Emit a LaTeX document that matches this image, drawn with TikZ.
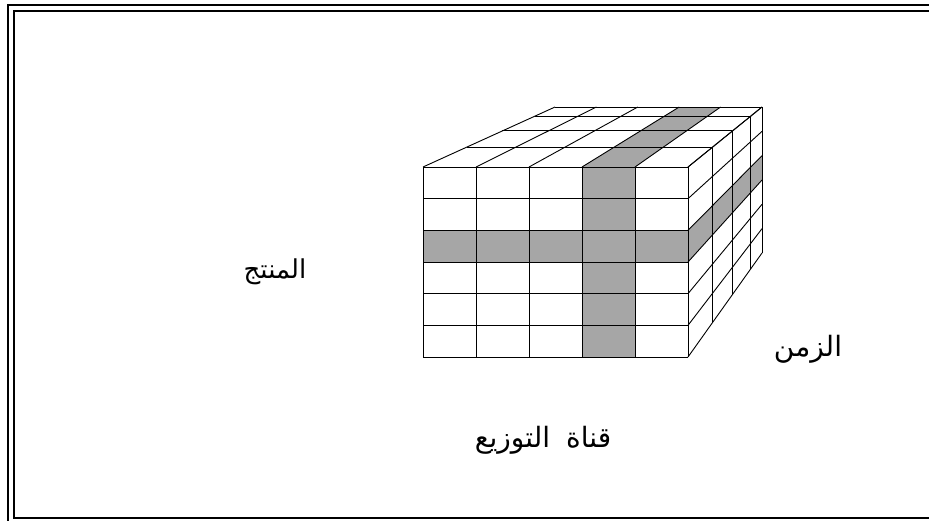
\documentclass[tikz,border=0pt]{standalone}
\usepackage{fontspec}
\newfontfamily\arabicfont[Script=Arabic]{DejaVu Sans}
\TeXXeTstate=1
\begin{document}
\begin{tikzpicture}[x=1pt,y=-1pt,
  grid/.style={black,line width=0.9pt},
  shade/.style={fill=black!35},
  frameline/.style={black,line width=2pt},
  lbl/.style={font=\arabicfont\fontsize{26}{30}\selectfont,inner sep=0pt}]
\useasboundingbox (0,0) rectangle (929,520);
\clip (0,0) rectangle (929,520);
% frame
\draw[frameline] (7.8,5.2) rectangle (960,540);
\draw[frameline] (13.8,11.2) rectangle (960,517.7);
% shading
\fill[shade] (582,167) rectangle (635,357);
\fill[shade] (423,230.33) rectangle (688,262);
\fill[shade] (582,167) -- (635,167) -- (720.6,107) -- (679.2,107) -- cycle;
\fill[shade] (688,230.33) -- (688,262) -- (762,180) -- (762,155.67) -- cycle;
% front face grid
\foreach \j in {0,...,5} \draw[grid] ({423+53*\j},167) -- ({423+53*\j},357);
\foreach \i in {0,...,6} \draw[grid] (423,{167+31.667*\i}) -- (688,{167+31.667*\i});
% top face
\foreach \t in {0,0.331,0.601,0.845,1}
  \draw[grid] ({423+132*\t},{167-60*\t}) -- ({688+74*\t},{167-60*\t});
\foreach \j in {0,...,5}
  \draw[grid] ({423+53*\j},167) -- ({555+41.4*\j},107);
% right face
\foreach \i in {0,...,6}
  \draw[grid] (688,{167+31.667*\i}) -- (762,{107+24.333*\i});
\foreach \t in {0,0.331,0.601,0.845,1}
  \draw[grid] ({688+74*\t},{167-60*\t}) -- ({688+74*\t},{357-104*\t});
% labels
\node[lbl] (product) at (275,272) {\beginR المنتج\endR};
\node[lbl,font=\arabicfont\fontsize{28}{32}\selectfont] (time) at (808,349) {\beginR الزمن\endR};
\node[lbl,font=\arabicfont\fontsize{28}{32}\selectfont] (channel) at (543,440) {\beginR قناة\hspace{16pt}التوزيع\endR};
\end{tikzpicture}
\end{document}
